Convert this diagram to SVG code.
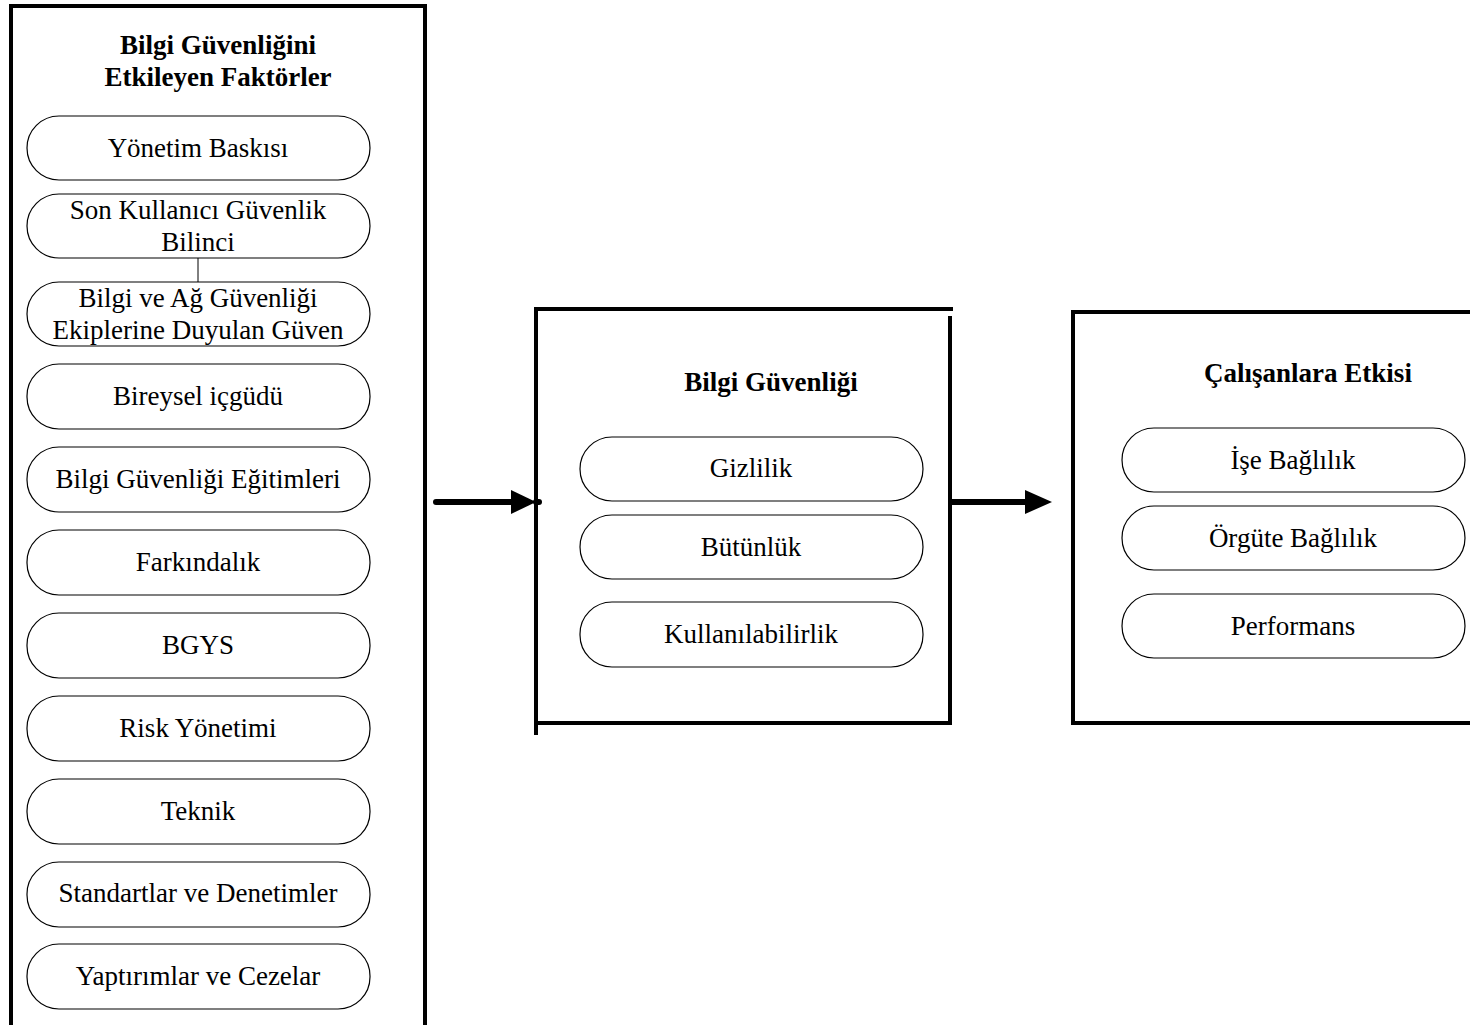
<svg xmlns="http://www.w3.org/2000/svg" width="1470" height="1025" viewBox="0 0 1470 1025">
<defs>
<style>
.frame{fill:none;stroke:#000;stroke-width:4;stroke-linecap:square}
.pill{fill:#fff;stroke:#000;stroke-width:1.2}
.t{font-family:"Liberation Serif","Times New Roman",serif;font-size:27px;fill:#000;text-anchor:middle}
.h{font-family:"Liberation Serif","Times New Roman",serif;font-size:27px;font-weight:bold;fill:#000;text-anchor:middle}
.conn{fill:none;stroke:#000;stroke-width:6;stroke-linecap:round}
</style>
</defs>
<rect width="1470" height="1025" fill="#fff"/>

<g id="factors">
<path class="frame" d="M11,1030 V6 H425 V1030"/>
<text class="h" x="218" y="54">Bilgi Güvenliğini</text>
<text class="h" x="218" y="86">Etkileyen Faktörler</text>
<g id="f1"><rect class="pill" x="27" y="116" width="343" height="64" rx="32"/><text class="t" x="198" y="157">Yönetim Baskısı</text></g>
<g id="f2"><rect class="pill" x="27" y="194" width="343" height="64" rx="32"/><text class="t" x="198" y="219">Son Kullanıcı Güvenlik</text><text class="t" x="198" y="251">Bilinci</text></g>
<g id="f3"><rect class="pill" x="27" y="282" width="343" height="64" rx="32"/><text class="t" x="198" y="307">Bilgi ve Ağ Güvenliği</text><text class="t" x="198" y="339">Ekiplerine Duyulan Güven</text></g>
<g id="f4"><rect class="pill" x="27" y="364" width="343" height="65" rx="32"/><text class="t" x="198" y="405">Bireysel içgüdü</text></g>
<g id="f5"><rect class="pill" x="27" y="447" width="343" height="65" rx="32"/><text class="t" x="198" y="488">Bilgi Güvenliği Eğitimleri</text></g>
<g id="f6"><rect class="pill" x="27" y="530" width="343" height="65" rx="32"/><text class="t" x="198" y="571">Farkındalık</text></g>
<g id="f7"><rect class="pill" x="27" y="613" width="343" height="65" rx="32"/><text class="t" x="198" y="654">BGYS</text></g>
<g id="f8"><rect class="pill" x="27" y="696" width="343" height="65" rx="32"/><text class="t" x="198" y="737">Risk Yönetimi</text></g>
<g id="f9"><rect class="pill" x="27" y="779" width="343" height="65" rx="32"/><text class="t" x="198" y="820">Teknik</text></g>
<g id="f10"><rect class="pill" x="27" y="862" width="343" height="65" rx="32"/><text class="t" x="198" y="902">Standartlar ve Denetimler</text></g>
<g id="f11"><rect class="pill" x="27" y="944" width="343" height="65" rx="32"/><text class="t" x="198" y="985">Yaptırımlar ve Cezelar</text></g>
</g>

<g id="security">
<path class="frame" d="M536,733 V309 H951"/>
<path class="frame" d="M950,318 V723 H536"/>
<text class="h" x="771" y="391">Bilgi Güvenliği</text>
<g id="s1"><rect class="pill" x="580" y="437" width="343" height="64" rx="32"/><text class="t" x="751" y="477">Gizlilik</text></g>
<g id="s2"><rect class="pill" x="580" y="515" width="343" height="64" rx="32"/><text class="t" x="751" y="556">Bütünlük</text></g>
<g id="s3"><rect class="pill" x="580" y="602" width="343" height="65" rx="32"/><text class="t" x="751" y="643">Kullanılabilirlik</text></g>
</g>

<g id="effects">
<path class="frame" d="M1474,312 H1073 V723 H1474"/>
<text class="h" x="1308" y="382">Çalışanlara Etkisi</text>
<g id="e1"><rect class="pill" x="1122" y="428" width="343" height="64" rx="32"/><text class="t" x="1293" y="469">İşe Bağlılık</text></g>
<g id="e2"><rect class="pill" x="1122" y="506" width="343" height="64" rx="32"/><text class="t" x="1293" y="547">Örgüte Bağlılık</text></g>
<g id="e3"><rect class="pill" x="1122" y="594" width="343" height="64" rx="32"/><text class="t" x="1293" y="635">Performans</text></g>
</g>

<g id="connectors">
<line x1="198" y1="258" x2="198" y2="282" stroke="#000" stroke-width="1"/>
<line class="conn" x1="436" y1="502" x2="511" y2="502"/>
<path d="M511,490 L536,502 L511,514 Z" fill="#000"/>
<line class="conn" x1="536" y1="502" x2="539" y2="502"/>
<line class="conn" x1="951" y1="502" x2="1026" y2="502"/>
<path d="M1025,490 L1052,502 L1025,514 Z" fill="#000"/>
</g>
</svg>
